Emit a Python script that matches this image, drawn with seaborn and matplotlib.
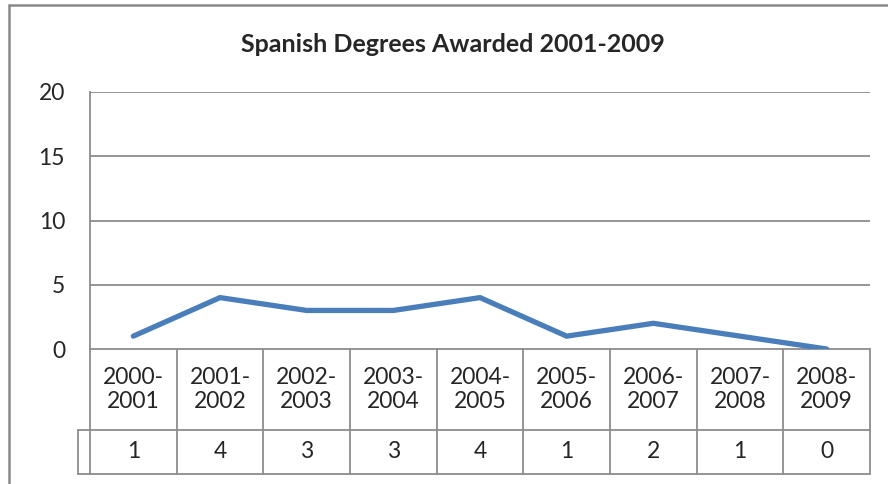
import matplotlib
matplotlib.use("Agg")
import matplotlib.pyplot as plt
import matplotlib.transforms as mtransforms
from matplotlib.lines import Line2D
import pandas as pd
import seaborn as sns

# Datos
years = ["2000-\n2001", "2001-\n2002", "2002-\n2003", "2003-\n2004", "2004-\n2005",
         "2005-\n2006", "2006-\n2007", "2007-\n2008", "2008-\n2009"]
degrees = [1, 4, 3, 3, 4, 1, 2, 1, 0]
y_ticks = [0, 5, 10, 15, 20]

sns.set_style("white")
plt.rcParams['font.family'] = ['Lato', 'DejaVu Sans']

W, H = 888, 484
fig = plt.figure(figsize=(W / 100, H / 100), dpi=100)

def fx(px):
    return px / W

def fy(py):
    return 1 - py / H

# ejes en pixeles: izquierda 90, derecha 870, arriba 92, abajo 349
left, right, top, bottom = 90, 870, 92, 349
ax = fig.add_axes([fx(left), fy(bottom), fx(right - left), (bottom - top) / H])

df = pd.DataFrame({"pos": range(len(degrees)), "valor": degrees})
sns.lineplot(data=df, x="pos", y="valor", ax=ax, color="#4A7EBB", linewidth=3.8,
             solid_capstyle="round", solid_joinstyle="miter", zorder=5)

grid_c = "#8C8C8C"
ax.set_xlim(-0.5, len(degrees) - 0.5)
ax.set_ylim(0, 20)
ax.set_yticks(y_ticks)
ax.set_yticklabels([str(t) for t in y_ticks], fontsize=16.5)
ax.tick_params(axis="y", length=0, pad=18)
ax.set_xticks([])
ax.set_xlabel("")
ax.set_ylabel("")
for t in y_ticks[1:]:
    ax.axhline(t, color=grid_c, lw=1.3, zorder=1)
for s in ["top", "right", "bottom"]:
    ax.spines[s].set_visible(False)
ax.spines["left"].set_color(grid_c)
ax.spines["left"].set_linewidth(1.3)

# tabla de datos debajo del eje
trans = mtransforms.blended_transform_factory(ax.transData, ax.transAxes)
hpx = bottom - top
row1 = (bottom - 430) / hpx
row2 = (bottom - 474) / hpx
kw = dict(color=grid_c, lw=1.3, transform=trans, clip_on=False)
ax.add_line(Line2D([-0.5, len(degrees) - 0.5], [0, 0], **kw))
ax.add_line(Line2D([-0.5, len(degrees) - 0.5], [row1, row1], **kw))
ax.add_line(Line2D([-0.5, len(degrees) - 0.5], [row2, row2], **kw))
for i in range(len(degrees) + 1):
    ax.add_line(Line2D([i - 0.5, i - 0.5], [0, row2], **kw))
for i, (lab, v) in enumerate(zip(years, degrees)):
    ax.text(i, row1 / 2, lab, transform=trans, ha="center", va="center",
            fontsize=16.5, linespacing=1.2)
    ax.text(i, (row1 + row2) / 2, str(v), transform=trans, ha="center", va="center",
            fontsize=16.5)

# pequeña celda de leyenda a la izquierda
stub = [Line2D([fx(78), fx(90)], [fy(430), fy(430)]),
        Line2D([fx(78), fx(90)], [fy(474), fy(474)]),
        Line2D([fx(78), fx(78)], [fy(430), fy(474)])]
for ln in stub:
    ln.set_color(grid_c)
    ln.set_linewidth(1.3)
    fig.add_artist(ln)

# titulo
fig.text(fx(453), fy(45), "Spanish Degrees Awarded 2001-2009", ha="center", va="center",
         fontsize=18, fontweight="bold")

# borde del grafico
for ln in [Line2D([fx(9), 1], [fy(5), fy(5)]), Line2D([fx(9), fx(9)], [fy(5), 0])]:
    ln.set_color("#8A8A8A")
    ln.set_linewidth(1.8)
    fig.add_artist(ln)

fig.savefig("out.png", dpi=100)
